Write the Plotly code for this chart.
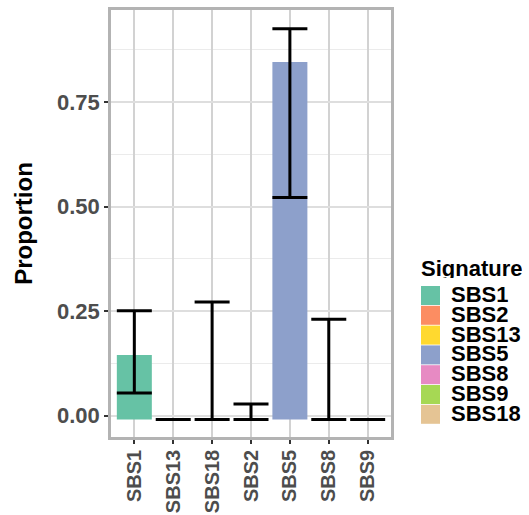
import plotly.graph_objects as go

# ---- data ----
categories = ["SBS1", "SBS13", "SBS18", "SBS2", "SBS5", "SBS8", "SBS9"]
proportion = [0.145, 0.0, 0.0, 0.0, 0.846, 0.0, 0.0]
ci_lower = [0.054, -0.009, -0.009, -0.009, 0.522, -0.009, -0.009]
ci_upper = [0.251, -0.009, 0.272, 0.028, 0.926, 0.231, -0.009]
baseline = -0.009

legend_order = ["SBS1", "SBS2", "SBS13", "SBS5", "SBS8", "SBS9", "SBS18"]
palette = {
    "SBS1": "#66C2A5", "SBS2": "#FC8D62", "SBS13": "#FFD92F", "SBS5": "#8DA0CB",
    "SBS8": "#E78AC3", "SBS9": "#A6D854", "SBS18": "#E5C494",
}
y_tickvals = [0, 0.25, 0.5, 0.75]
y_ticktext = ["0.00", "0.25", "0.50", "0.75"]
y_minor = [0.125, 0.375, 0.625, 0.875]

FONT = "Liberation Sans, Arial, sans-serif"
W, H = 529, 515
ML, MR, MT, MB = 111, 138, 10, 78

fig = go.Figure()

# bars (zero-valued bars are not drawn)
for cat, val in zip(categories, proportion):
    fig.add_trace(go.Bar(
        x=[cat], y=[val - baseline if val > 0 else 0], base=[baseline],
        marker=dict(color=palette[cat], line=dict(width=0)),
        width=0.9, showlegend=False, hoverinfo="skip",
    ))

# error bars
fig.add_trace(go.Scatter(
    x=categories, y=ci_lower, mode="markers",
    marker=dict(size=0.1, opacity=0),
    error_y=dict(type="data", symmetric=False,
                 array=[u - l for u, l in zip(ci_upper, ci_lower)],
                 arrayminus=[0] * len(categories),
                 color="black", thickness=3, width=17.5),
    showlegend=False, hoverinfo="skip",
))

fig.update_layout(
    width=W, height=H,
    margin=dict(l=ML, r=MR, t=MT, b=MB),
    paper_bgcolor="white", plot_bgcolor="white",
    barmode="overlay",
    font=dict(family=FONT, size=22, color="#4D4D4D", weight="bold"),
    xaxis=dict(
        type="category", categoryorder="array", categoryarray=categories,
        range=[-0.6, 6.6], automargin=False,
        showgrid=True, gridcolor="#D2D2D2", gridwidth=1.5,
        showline=True, linecolor="#B3B3B3", linewidth=2.5, mirror=True,
        ticks="outside", ticklen=4, tickwidth=2, tickcolor="#333333",
        tickangle=-90, zeroline=False, ticklabelstandoff=-2,
        tickfont=dict(family=FONT, size=20, color="#4D4D4D", weight="bold"),
    ),
    yaxis=dict(
        range=[-0.051, 0.9706], automargin=False,
        tickvals=y_tickvals, ticktext=y_ticktext,
        showgrid=True, gridcolor="#DEDEDE", gridwidth=1.5,
        minor=dict(tickvals=y_minor, showgrid=True,
                   gridcolor="#EBEBEB", gridwidth=1),
        showline=True, linecolor="#B3B3B3", linewidth=2.5, mirror=True,
        ticks="outside", ticklen=4, tickwidth=2, tickcolor="#333333",
        zeroline=False,
        tickfont=dict(family=FONT, size=22, color="#4D4D4D", weight="bold"),
        title=dict(text="Proportion", standoff=18,
                   font=dict(family=FONT, size=24, color="black", weight="bold")),
    ),
)

# legend drawn as keys + labels (ggplot-style tight spacing)
pw, ph = W - ML - MR, H - MT - MB
px_to_x = lambda p: (p - ML) / pw
px_to_y = lambda p: 1 - (p - MT) / ph

leg_x = 421
key = 19
step = 19.8
top = 286
fig.add_annotation(
    xref="paper", yref="paper",
    x=px_to_x(leg_x - 1), y=px_to_y(268),
    text="Signature", showarrow=False, xanchor="left", yanchor="middle",
    height=20, borderpad=0,
    font=dict(family=FONT, size=22, color="black", weight="bold"),
)
for i, sig in enumerate(legend_order):
    y0 = top + i * step
    fig.add_shape(type="rect", xref="paper", yref="paper",
                  x0=px_to_x(leg_x), x1=px_to_x(leg_x + key),
                  y0=px_to_y(y0), y1=px_to_y(y0 + key),
                  fillcolor=palette[sig], line=dict(width=0))
    fig.add_annotation(
        xref="paper", yref="paper",
        x=px_to_x(leg_x + key + 10), y=px_to_y(y0 + key / 2 - 1.5),
        text=sig, showarrow=False, xanchor="left", yanchor="middle",
        height=18, borderpad=0,
        font=dict(family=FONT, size=22, color="black", weight="bold"),
    )

fig.write_html("out.html",
               config={"displayModeBar": False},
               post_script="document.body.style.margin='0';document.body.style.overflow='hidden';")
